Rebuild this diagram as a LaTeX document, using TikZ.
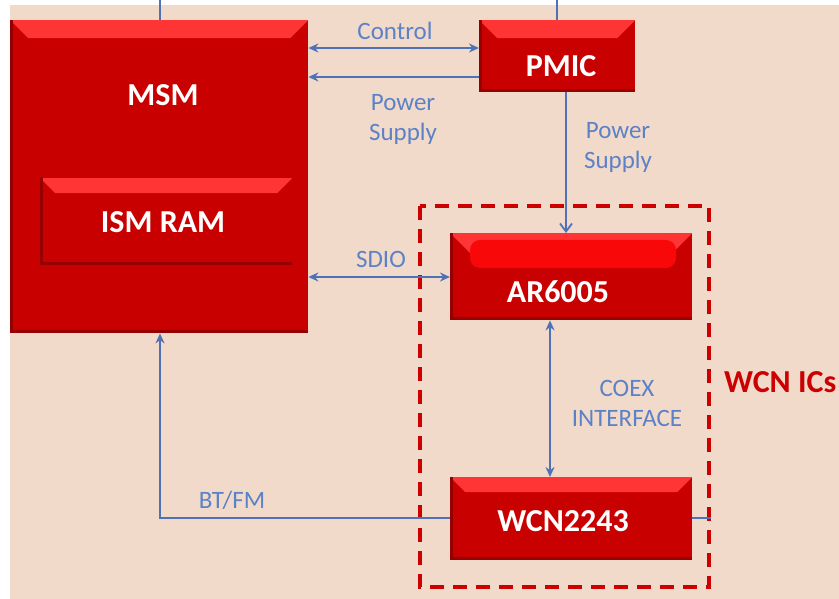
\documentclass[tikz,border=0pt]{standalone}
\usepackage{fontspec}
\setmainfont{Carlito}
\usetikzlibrary{arrows.meta}
\definecolor{bgpeach}{HTML}{F2DACB}
\definecolor{boxred}{HTML}{C80000}
\definecolor{bevelred}{HTML}{FF3535}
\definecolor{glowred}{HTML}{F80808}
\definecolor{shadered}{HTML}{960000}
\definecolor{linkblue}{HTML}{4F72B6}
\definecolor{lblblue}{HTML}{5B82C6}
\definecolor{wcnred}{HTML}{CC0000}
\tikzset{
  redbox/.style={fill=boxred, draw=none, inner sep=0pt, anchor=north west,
    path picture={
      \fill[bevelred] (path picture bounding box.north west) -- (path picture bounding box.north east)
        -- ([xshift=-#1,yshift=-#1]path picture bounding box.north east)
        -- ([xshift=#1,yshift=-#1]path picture bounding box.north west) -- cycle;
      \fill[shadered] (path picture bounding box.south west) rectangle ([yshift=3pt]path picture bounding box.south east);
      \fill[shadered] (path picture bounding box.south west) rectangle ([xshift=3pt]path picture bounding box.north west);
    }},
  boxtext/.style={text=white, font=\bfseries\fontsize{32}{34}\selectfont, inner sep=0pt},
  link/.style={draw=linkblue, line width=1.8pt},
  tip/.style={-{Stealth[length=10pt,width=9pt]}},
  lbl/.style={text=lblblue, font=\fontsize{25}{30}\selectfont, align=center, inner sep=0pt},
}
\begin{document}
\begin{tikzpicture}[x=1pt,y=-1pt]
\useasboundingbox (0,0) rectangle (839,599);
\fill[white] (0,0) rectangle (839,599);
\fill[bgpeach] (10,5) rectangle (839,599);
% boxes
\node[redbox=18pt, minimum width=298pt, minimum height=313pt] (msm) at (10,20) {};
\node[boxtext] (msmt) at (163,95) {MSM};
\node[redbox=15pt, minimum width=252pt, minimum height=87pt] (ram) at (40,178) {};
\node[boxtext] (ramt) at (163,222) {ISM RAM};
\node[redbox=18pt, minimum width=156pt, minimum height=72pt] (pmic) at (479,20) {};
\node[boxtext] (pmict) at (561,66) {PMIC};
\node[redbox=22pt, minimum width=242pt, minimum height=87pt] (ar) at (450,233) {};
\fill[glowred, rounded corners=10pt] (470,240) rectangle (676,268);
\node[boxtext] (art) at (558,292) {AR6005};
\node[redbox=15pt, minimum width=242pt, minimum height=83pt] (wcn) at (450,477) {};
\node[boxtext] (wcnt) at (563,521) {WCN2243};
% dashed group
\draw[wcnred, line width=4pt, dash pattern=on 14pt off 9pt] (420,206) rectangle (709,587);
\node[text=wcnred, font=\bfseries\fontsize{32}{34}\selectfont, anchor=west, inner sep=0pt] (wcnics) at (724,382) {WCN ICs};
% coordinates for free ends
\coordinate (msmtop) at (160,0);
\coordinate (pmictop) at (557,0);
\coordinate (wcnright) at (711,518);
% links
\draw[link] (msmtop) -- (msm.north -| msmtop);
\draw[link] (pmictop) -- (pmic.north -| pmictop);
\draw[link, {Stealth[length=10pt,width=9pt]}-{Stealth[length=10pt,width=9pt]}] (msm.east |- 0,48) -- (pmic.west |- 0,48);
\draw[link, tip] (pmic.west |- 0,77) -- (msm.east |- 0,77);
\draw[link, -{Straight Barb[length=8pt,width=12pt]}] (pmic.south -| 566,0) -- (ar.north -| 566,0);
\draw[link, {Stealth[length=10pt,width=9pt]}-{Stealth[length=10pt,width=9pt]}] (msm.east |- 0,277) -- (ar.west |- 0,277);
\draw[link, {Stealth[length=10pt,width=9pt]}-{Stealth[length=10pt,width=9pt]}] (ar.south -| 550,0) -- (wcn.north -| 550,0);
\draw[link, tip] (wcn.west |- 0,518) -| (msm.south -| 160,0);
\draw[link] (wcn.east |- 0,518) -- (wcnright);
% labels
\node[lbl] (lcontrol) at (395,31) {Control};
\node[lbl] (lpower1) at (403,119) {Power\\Supply};
\node[lbl] (lpower2) at (618,147) {Power\\Supply};
\node[lbl] (lsdio) at (381,259) {SDIO};
\node[lbl] (lcoex) at (627,403) {COEX\\INTERFACE};
\node[lbl] (lbtfm) at (232,500) {BT/FM};
\end{tikzpicture}
\end{document}
